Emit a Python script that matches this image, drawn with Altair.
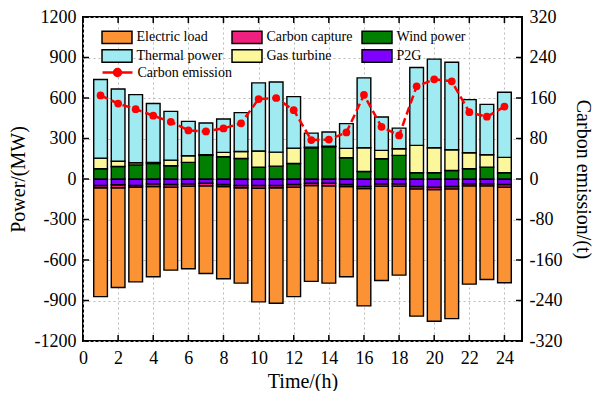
import altair as alt
import pandas as pd

hours = list(range(1, 25))
electric_load = [-806, -739, -702, -668, -614, -612, -649, -683, -706, -842, -855, -810,
                 -710, -720, -668, -869, -699, -659, -943, -976, -961, -728, -693, -708]
carbon_capture = [-17, -22, -12, -20, -20, -17, -20, -15, -17, -20, -17, -20,
                  -17, -20, -15, -15, -17, -17, -17, -17, -17, -15, -15, -20]
p2g = [-48, -43, -48, -36, -41, -36, -31, -41, -48, -48, -48, -41,
       -31, -31, -41, -56, -36, -36, -56, -61, -56, -36, -36, -41]
wind_power = [76, 93, 105, 115, 98, 123, 175, 165, 152, 88, 95, 115,
              232, 239, 157, 56, 150, 175, 46, 46, 63, 76, 88, 46]
gas_turbine = [79, 39, 15, 8, 42, 49, 5, 32, 52, 119, 104, 114,
               4, 4, 70, 176, 62, 49, 203, 186, 154, 119, 92, 114]
thermal_power = [582, 535, 505, 436, 361, 255, 235, 248, 288, 505, 520, 381,
                 104, 105, 183, 517, 247, 153, 577, 656, 648, 393, 373, 483]
carbon_emission = [165, 149, 138, 125, 113, 96, 94, 100, 110, 158, 160, 136,
                   77, 78, 92, 166, 103, 86, 183, 197, 193, 132, 123, 143]

x_ticks = list(range(0, 25, 2))
y_ticks_left = list(range(-1200, 1201, 300))
y_ticks_right = list(range(-320, 321, 80))

# legend is filled column by column: (Electric load, Thermal power), (Carbon capture, Gas turbine), (Wind power, P2G)
legend_names = ["Electric load", "Thermal power", "Carbon capture",
                "Gas turbine", "Wind power", "P2G"]
legend_colors = ["#FB9233", "#A0EBF1", "#F0207F", "#FBF79A", "#007F00", "#7F00FF"]
stack_order = {"P2G": 0, "Carbon capture": 1, "Electric load": 2,
               "Wind power": 3, "Gas turbine": 4, "Thermal power": 5}

series = {
    "Electric load": electric_load,
    "Carbon capture": carbon_capture,
    "P2G": p2g,
    "Wind power": wind_power,
    "Gas turbine": gas_turbine,
    "Thermal power": thermal_power,
}
rows = []
for name, vals in series.items():
    for h, v in zip(hours, vals):
        rows.append({"hour": h, "series": name, "value": v, "ord": stack_order[name]})
bars_df = pd.DataFrame(rows)
line_df = pd.DataFrame({"hour": hours, "emission": carbon_emission,
                        "label": ["Carbon emission"] * len(hours)})

W, H = 439, 324
FONT = "Liberation Serif"
PLAIN = "'' + datum.value"

xscale = alt.Scale(domain=[0, 25], nice=False, zero=False)
yscale_l = alt.Scale(domain=[-1200, 1200], nice=False)
yscale_r = alt.Scale(domain=[-320, 320], nice=False)

x_axis = alt.Axis(values=x_ticks, title="Time/(h)", ticks=False, domain=False,
                  grid=True, gridDash=[2, 3], gridColor="#BBBBBB", labelExpr=PLAIN,
                  labelPadding=8, titlePadding=4, labelFlush=False)

bars = alt.Chart(bars_df).transform_stack(
    stack="value", groupby=["hour"], sort=[alt.SortField("ord", order="ascending")],
    as_=["y0", "y1"], offset="zero"
).transform_calculate(
    xa="datum.hour - 0.39", xb="datum.hour + 0.39"
).mark_bar(stroke="black", strokeWidth=1.4, opacity=1).encode(
    x=alt.X("xa:Q", scale=xscale, axis=x_axis),
    x2="xb:Q",
    y=alt.Y("y0:Q", scale=yscale_l,
            axis=alt.Axis(values=y_ticks_left, title="Power/(MW)", ticks=False, domain=False,
                          grid=True, gridDash=[2, 3], gridColor="#BBBBBB", labelExpr=PLAIN,
                          labelPadding=7, titlePadding=6, labelFlush=False)),
    y2="y1:Q",
    fill=alt.Fill("series:N", scale=alt.Scale(domain=legend_names, range=legend_colors),
                  legend=alt.Legend(title=None, orient="none", legendX=27, legendY=13,
                                    columns=3, symbolType="M-2.4,-1H2.4V1H-2.4Z",
                                    symbolSize=156, symbolStrokeColor="black",
                                    symbolStrokeWidth=1.5, symbolOpacity=1,
                                    labelFont=FONT, labelFontSize=14, labelColor="black",
                                    labelOffset=12.5, columnPadding=6, rowPadding=-1,
                                    gridAlign="all", padding=0)),
)

xt_df = pd.DataFrame({"t": x_ticks})
yt_df = pd.DataFrame({"v": y_ticks_left})
tick_style = dict(color="black", strokeWidth=1.5)
xtick_bottom = alt.Chart(xt_df).mark_rule(**tick_style).encode(
    x=alt.X("t:Q", scale=xscale, axis=x_axis), y=alt.value(H), y2=alt.value(H - 6))
xtick_top = alt.Chart(xt_df).mark_rule(**tick_style).encode(
    x=alt.X("t:Q", scale=xscale, axis=x_axis), y=alt.value(0), y2=alt.value(6))
ytick_left = alt.Chart(yt_df).mark_rule(**tick_style).encode(
    y=alt.Y("v:Q", scale=yscale_l, axis=None), x=alt.value(0), x2=alt.value(6))
ytick_right = alt.Chart(yt_df).mark_rule(**tick_style).encode(
    y=alt.Y("v:Q", scale=yscale_l, axis=None), x=alt.value(W - 6), x2=alt.value(W))

line = alt.Chart(line_df).mark_line(strokeWidth=2.5, strokeDash=[8, 4]).encode(
    x=alt.X("hour:Q", scale=xscale, axis=x_axis),
    y=alt.Y("emission:Q", scale=yscale_r,
            axis=alt.Axis(orient="right", values=y_ticks_right, title="Carbon emission/(t)",
                          ticks=False, domain=False, grid=False, labelPadding=7, labelExpr=PLAIN,
                          titlePadding=11, labelFlush=False)),
    stroke=alt.Stroke("label:N", scale=alt.Scale(domain=["Carbon emission"], range=["#FF0000"]),
                      legend=alt.Legend(title=None, orient="none", legendX=27, legendY=48,
                                        symbolType="M-2.4,0H-0.7M0.7,0H2.4M0.56,0A0.56,0.56,0,1,1,-0.56,0A0.56,0.56,0,1,1,0.56,0",
                                        symbolSize=156, symbolStrokeWidth=2.5,
                                        symbolFillColor="#FF0000", symbolStrokeColor="#FF0000",
                                        labelFont=FONT, labelFontSize=14, labelColor="black",
                                        labelOffset=12.5, padding=0)),
)
points = alt.Chart(line_df).mark_circle(size=60, color="#FF0000", opacity=1).encode(
    x=alt.X("hour:Q", scale=xscale, axis=x_axis),
    y=alt.Y("emission:Q", scale=yscale_r, axis=None),
)

chart = alt.layer(bars, xtick_bottom, xtick_top, ytick_left, ytick_right, line, points).resolve_scale(
    y="independent"
).properties(
    width=W, height=H, padding={"left": 0, "top": 0, "right": 1, "bottom": 0}
).configure_view(stroke="black", strokeWidth=2).configure_axis(
    labelFont=FONT, labelFontSize=18, labelColor="black",
    titleFont=FONT, titleFontSize=20, titleFontWeight="normal", titleColor="black"
)

chart.save("out.html", embed_options={"renderer": "svg", "actions": False})
